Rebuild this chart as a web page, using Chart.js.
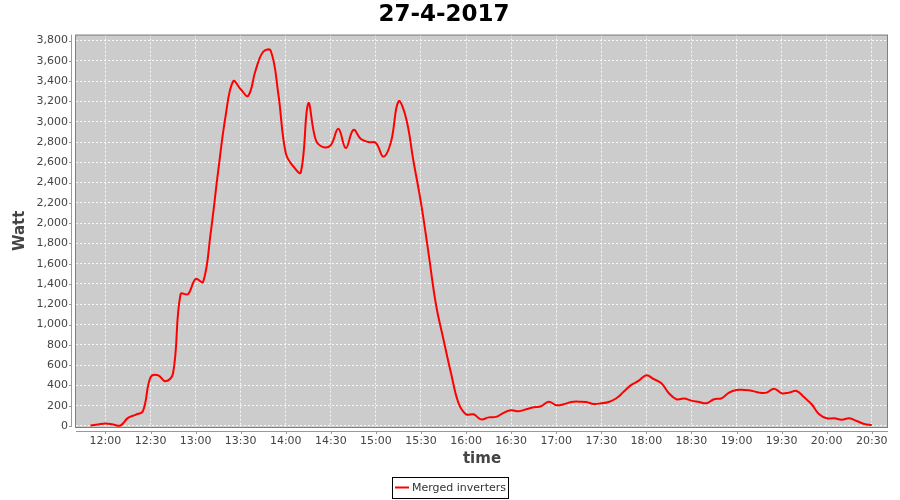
<!DOCTYPE html>
<html lang="en">
<head>
    <meta charset="UTF-8">
    <title>27-4-2017</title>
    <style>
        body {
            margin: 0;
            padding: 0;
            background: #ffffff;
        }
    </style>
    <script src="https://cdn.jsdelivr.net/npm/chart.js"></script>
</head>
<body>
    <canvas id="graph" width="900" height="500"></canvas>
    <script>
        // Readings, every 5 minutes
        const times = [
            '11:50', '11:55', '12:00', '12:05', '12:10', '12:15', '12:20', '12:25', '12:30', '12:35', '12:40', '12:45',
            '12:50', '12:55', '13:00', '13:05', '13:10', '13:15', '13:20', '13:25', '13:30', '13:35', '13:40', '13:45',
            '13:50', '13:55', '14:00', '14:05', '14:10', '14:15', '14:20', '14:25', '14:30', '14:35', '14:40', '14:45',
            '14:50', '14:55', '15:00', '15:05', '15:10', '15:15', '15:20', '15:25', '15:30', '15:35', '15:40', '15:45',
            '15:50', '15:55', '16:00', '16:05', '16:10', '16:15', '16:20', '16:25', '16:30', '16:35', '16:40', '16:45',
            '16:50', '16:55', '17:00', '17:05', '17:10', '17:15', '17:20', '17:25', '17:30', '17:35', '17:40', '17:45',
            '17:50', '17:55', '18:00', '18:05', '18:10', '18:15', '18:20', '18:25', '18:30', '18:35', '18:40', '18:45',
            '18:50', '18:55', '19:00', '19:05', '19:10', '19:15', '19:20', '19:25', '19:30', '19:35', '19:40', '19:45',
            '19:50', '19:55', '20:00', '20:05', '20:10', '20:15', '20:20', '20:25', '20:30'
        ];
        const watts = [
            5, 15, 25, 15, 5, 80, 110, 150, 480, 500, 440, 520,
            1300, 1300, 1450, 1420, 1900, 2510, 3060, 3400, 3320, 3255, 3510, 3690,
            3700, 3280, 2690, 2560, 2500, 3180, 2820, 2750, 2770, 2930, 2740, 2920,
            2830, 2800, 2790, 2655, 2800, 3200, 3040, 2610, 2200, 1705, 1195, 850,
            520, 225, 115, 115, 65, 85, 90, 130, 155, 145, 165, 185,
            195, 240, 205, 215, 237, 240, 237, 217, 224, 237, 273, 339,
            405, 447, 500, 461, 421, 323, 264, 270, 250, 237, 224, 264,
            273, 329, 355, 355, 348, 329, 329, 368, 323, 329, 345, 283,
            214, 115, 76, 76, 62, 76, 49, 20, 10
        ];
        const xTickLabels = ['12:00', '12:30', '13:00', '13:30', '14:00', '14:30', '15:00', '15:30', '16:00',
            '16:30', '17:00', '17:30', '18:00', '18:30', '19:00', '19:30', '20:00', '20:30'];
        const yTickValues = [0, 200, 400, 600, 800, 1000, 1200, 1400, 1600, 1800, 2000,
            2200, 2400, 2600, 2800, 3000, 3200, 3400, 3600, 3800];

        const FONT = 'DejaVu Sans';

        function toMinutes(s) {
            const parts = s.split(':');
            return parseInt(parts[0]) * 60 + parseInt(parts[1]);
        }
        function toLabel(m) {
            const h = Math.floor(m / 60);
            const mm = m % 60;
            return h + ':' + (mm < 10 ? '0' : '') + mm;
        }

        const points = times.map((t, i) => ({ x: toMinutes(t), y: watts[i] }));

        // plot background, outline, offset axis lines and the boxed legend
        const jfreeLook = {
            id: 'jfreeLook',
            beforeDraw(chart) {
                const a = chart.chartArea;
                const ctx = chart.ctx;
                ctx.save();
                ctx.fillStyle = '#cccccc';
                ctx.fillRect(a.left, a.top, a.right - a.left, a.bottom - a.top);
                ctx.restore();
            },
            afterDraw(chart) {
                const a = chart.chartArea;
                const ctx = chart.ctx;
                ctx.save();
                ctx.strokeStyle = '#808080';
                ctx.lineWidth = 1;
                ctx.strokeRect(a.left - 0.5, a.top + 0.5, a.right - a.left, a.bottom - a.top);

                // axis lines, 4px away from the plot
                ctx.strokeStyle = '#999999';
                ctx.beginPath();
                ctx.moveTo(a.left - 4.5, a.top);
                ctx.lineTo(a.left - 4.5, a.bottom);
                ctx.moveTo(a.left, a.bottom + 4.5);
                ctx.lineTo(a.right, a.bottom + 4.5);
                chart.scales.y.ticks.forEach(t => {
                    const py = Math.round(chart.scales.y.getPixelForValue(t.value)) + 0.5;
                    ctx.moveTo(a.left - 4.5, py);
                    ctx.lineTo(a.left - 7, py);
                });
                chart.scales.x.ticks.forEach(t => {
                    const px = Math.round(chart.scales.x.getPixelForValue(t.value)) + 0.5;
                    ctx.moveTo(px, a.bottom + 4.5);
                    ctx.lineTo(px, a.bottom + 7);
                });
                ctx.stroke();

                // legend
                ctx.strokeStyle = '#000000';
                ctx.strokeRect(392.5, 477.5, 116, 21);
                ctx.strokeStyle = '#ff0000';
                ctx.lineWidth = 2;
                ctx.beginPath();
                ctx.moveTo(395, 487.5);
                ctx.lineTo(409, 487.5);
                ctx.stroke();
                ctx.fillStyle = '#333333';
                ctx.font = '11px "' + FONT + '"';
                ctx.textBaseline = 'middle';
                ctx.textAlign = 'left';
                ctx.fillText('Merged inverters', 412, 488);
                ctx.restore();
            }
        };

        new Chart(document.getElementById('graph').getContext('2d'), {
            type: 'line',
            data: {
                datasets: [{
                    label: 'Merged inverters',
                    data: points,
                    borderColor: '#ff0000',
                    backgroundColor: '#ff0000',
                    borderWidth: 2,
                    pointRadius: 0,
                    tension: 0.4,
                    fill: false
                }]
            },
            options: {
                responsive: false,
                animation: false,
                layout: { padding: { left: 0, right: 12, top: 0, bottom: 28 } },
                plugins: {
                    title: {
                        display: true,
                        text: '27-4-2017',
                        color: '#000000',
                        font: { family: FONT, size: 23, weight: 'bold', lineHeight: 1.2 },
                        padding: { top: 1, bottom: 6 }
                    },
                    legend: { display: false },
                    tooltip: { enabled: false }
                },
                scales: {
                    x: {
                        type: 'linear',
                        min: 700.4,
                        max: 1240.8,
                        afterBuildTicks: axis => {
                            axis.ticks = xTickLabels.map(l => ({ value: toMinutes(l) }));
                        },
                        afterFit: axis => { axis.height = 45; },
                        grid: { color: 'rgba(255,255,255,0.85)', lineWidth: 1, drawTicks: false },
                        border: { display: false, dash: [2, 2] },
                        ticks: {
                            padding: 8,
                            color: '#444444',
                            autoSkip: false,
                            maxRotation: 0,
                            font: { family: FONT, size: 11 },
                            callback: v => toLabel(v)
                        },
                        title: {
                            display: true,
                            text: 'time',
                            color: '#444444',
                            font: { family: FONT, size: 15, weight: 'bold', lineHeight: 1.2 },
                            padding: { top: 0, bottom: 4 }
                        }
                    },
                    y: {
                        min: -10,
                        max: 3859,
                        afterBuildTicks: axis => {
                            axis.ticks = yTickValues.map(v => ({ value: v }));
                        },
                        afterFit: axis => { axis.width = 76; },
                        grid: { color: 'rgba(255,255,255,0.85)', lineWidth: 1, drawTicks: false },
                        border: { display: false, dash: [2, 2] },
                        ticks: {
                            padding: 8,
                            color: '#444444',
                            autoSkip: false,
                            font: { family: FONT, size: 11 },
                            callback: v => v.toLocaleString('en-US')
                        },
                        title: {
                            display: true,
                            text: 'Watt',
                            color: '#444444',
                            font: { family: FONT, size: 15, weight: 'bold', lineHeight: 1.2 },
                            padding: { top: 11, bottom: 0 }
                        }
                    }
                }
            },
            plugins: [jfreeLook]
        });
    </script>
</body>
</html>
